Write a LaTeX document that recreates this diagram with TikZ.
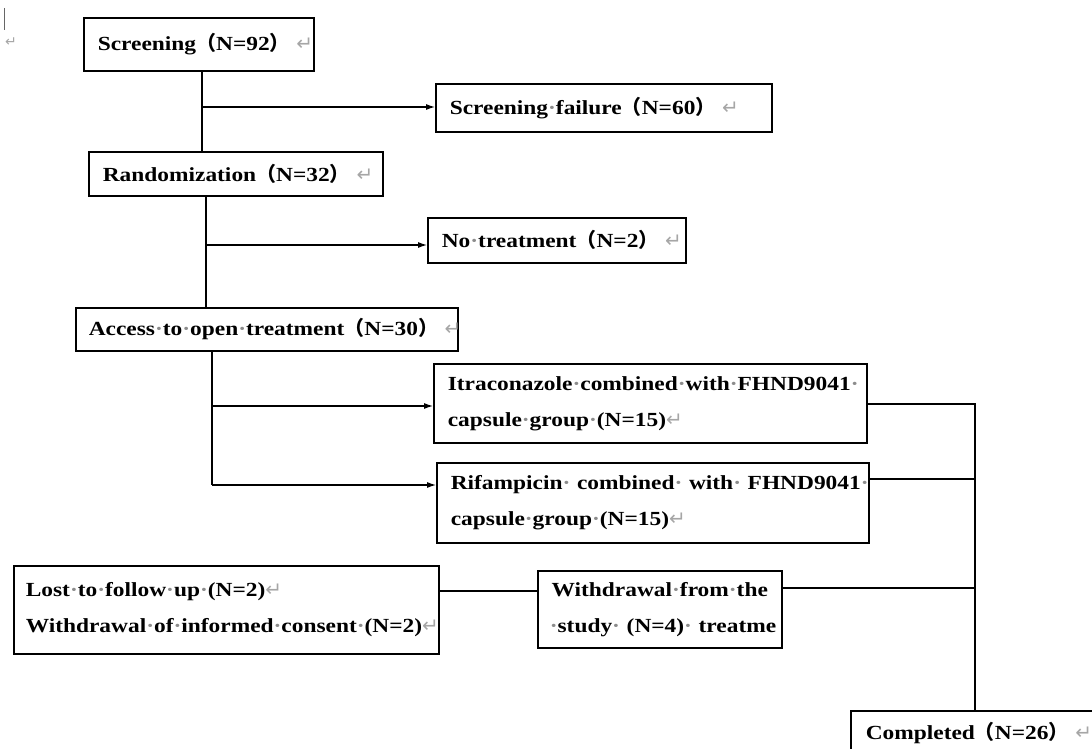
\documentclass[tikz,border=0pt]{standalone}
\usepackage{fontspec}
\setmainfont{Liberation Serif}[FakeStretch=1.17]
\newfontfamily\cjk{Noto Sans CJK SC}
\newfontfamily\marksfont{DejaVu Sans}
\usetikzlibrary{arrows.meta}
\newcommand{\wsdot}{{\color{black!45}·}}
\newcommand{\retmark}{{\mdseries\marksfont\color{black!35}↵}}
\newcommand{\fwl}{{\cjk （}}
\newcommand{\fwr}{{\cjk ）}}

\tikzset{
  flowbox/.style={draw, line width=1.6pt, anchor=north west, inner xsep=14pt, inner ysep=0pt,
    align=left, font=\fontsize{20}{36}\selectfont\bfseries},
  link/.style={line width=1.1pt},
  arrowlink/.style={link, -{Latex[length=9pt,width=6pt]}}
}

\begin{document}
\begin{tikzpicture}[x=1pt, y=-1pt]
      % page is 1092 x 749, coordinates in pixels from the top left
      \useasboundingbox (0,0) rectangle (1092,749);
      \clip (0,0) rectangle (1092,749);
      % word cursor and empty paragraph
      \draw[black!60, line width=0.8pt] (4,8) -- (4,30);
      \node[font=\fontsize{14}{16}\selectfont] (par0) at (11,42) {\retmark};
      % boxes (every line kept in one \mbox so it never wraps)
      \node[flowbox, text width=202pt, minimum height=53pt] (screen) at (83,17) {\mbox{Screening\fwl N=92\fwr\ \retmark}};
      \node[flowbox, text width=308pt, minimum height=48pt] (fail) at (435,83) {\mbox{Screening\wsdot failure\fwl N=60\fwr\ \retmark}};
      \node[flowbox, text width=266pt, minimum height=44pt] (random) at (88,151) {\mbox{Randomization\fwl N=32\fwr\ \retmark}};
      \node[flowbox, text width=230pt, minimum height=45pt] (notreat) at (427,217) {\mbox{No\wsdot treatment\fwl N=2\fwr\ \retmark}};
      \node[flowbox, text width=356pt, minimum height=43pt, inner xsep=13pt] (access) at (75,307) {\mbox{Access\wsdot to\wsdot open\wsdot treatment\fwl N=30\fwr\ \retmark}};
      \node[flowbox, text width=405pt, minimum height=79pt] (itra) at (433,363) {\mbox{Itraconazole\wsdot combined\wsdot with\wsdot FHND9041\wsdot}\\\mbox{capsule\wsdot group\wsdot(N=15)\retmark}};
      \node[flowbox, text width=404pt, minimum height=80pt] (rifa) at (436,462) {\mbox{Rifampicin\wsdot\ combined\wsdot\ with\wsdot\ FHND9041\wsdot}\\\mbox{capsule\wsdot group\wsdot(N=15)\retmark}};
      \node[flowbox, text width=401pt, minimum height=88pt, inner xsep=12pt] (lost) at (13,565) {\mbox{Lost\wsdot to\wsdot follow\wsdot up\wsdot(N=2)\retmark}\\\mbox{Withdrawal\wsdot of\wsdot informed\wsdot consent\wsdot(N=2)\retmark}};
      \node[flowbox, text width=220pt, minimum height=77pt, inner xsep=12pt, align=center] (withd) at (537,570) {\mbox{Withdrawal\wsdot from\wsdot the}\\\mbox{\wsdot study\wsdot\ (N=4)\wsdot\ treatme}};
      \node[flowbox, text width=272pt, minimum height=44pt, inner xsep=15pt] (done) at (850,710) {\mbox{Completed\fwl N=26\fwr\ \retmark}};
      % screening -> randomization
      \coordinate (s1) at (202,107);
      \draw[link] (screen.south -| s1) -- (random.north -| s1);
      \draw[arrowlink] (s1) -- (fail.west |- s1);
      % randomization -> open treatment
      \coordinate (r1) at (206,245);
      \draw[link] (random.south -| r1) -- (access.north -| r1);
      \draw[arrowlink] (r1) -- (notreat.west |- r1);
      % open treatment -> two groups
      \coordinate (a1) at (212,406);
      \coordinate (a2) at (212,485);
      \draw[link] (access.south -| a1) -- (a2);
      \draw[arrowlink] (a1) -- (itra.west |- a1);
      \draw[arrowlink] (a2) -- (rifa.west |- a2);
      % withdrawals
      \coordinate (w1) at (487,591);
      \draw[link] (lost.east |- w1) -- (withd.west |- w1);
      % right side collector -> completed
      \coordinate (c1) at (975,404);
      \coordinate (c2) at (975,479);
      \coordinate (c3) at (975,588);
      \draw[link] (itra.east |- c1) -- (c1) -- (done.north -| c1);
      \draw[link] (rifa.east |- c2) -- (c2);
      \draw[link] (withd.east |- c3) -- (c3);
    \end{tikzpicture}
\end{document}
